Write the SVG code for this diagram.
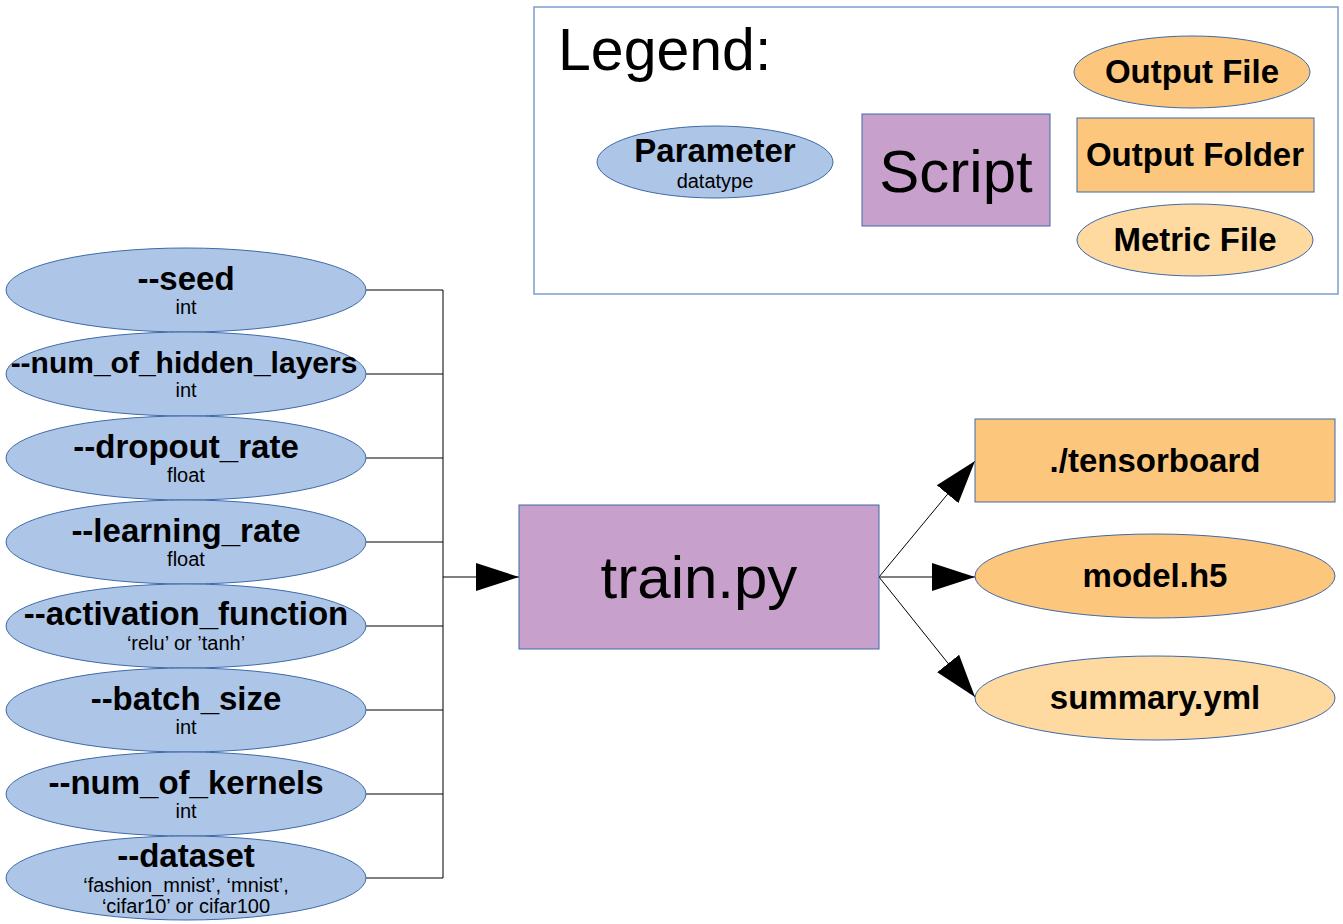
<svg xmlns="http://www.w3.org/2000/svg" width="1343" height="924" viewBox="0 0 1343 924">
<style>
text{font-family:"Liberation Sans",Arial,sans-serif;fill:#000;text-anchor:middle}
.t{font-weight:bold;font-size:33px}
.s{font-size:20px}
.ob{font-weight:bold;font-size:33px}
.param{fill:#adc6e8;stroke:#3f6aa8;stroke-width:1}
.script{fill:#c7a0cb;stroke:#3f6aa8;stroke-width:1}
.out{fill:#fcc67c;stroke:#3f6aa8;stroke-width:1}
.metric{fill:#fed9a0;stroke:#3f6aa8;stroke-width:1}
.c{fill:none;stroke:#000;stroke-width:1}
</style>
<defs>
<marker id="ah" markerUnits="userSpaceOnUse" markerWidth="44" markerHeight="30" refX="43" refY="14" orient="auto" viewBox="0 0 44 28">
<path d="M0,0 L43,14 L0,28 z" fill="#000"/>
</marker>
</defs>
<rect width="1343" height="924" fill="#fff"/>
<g id="legend">
<rect x="534" y="7" width="804" height="287" fill="#fff" stroke="#7c9ccd" stroke-width="1.5"/>
<text x="558" y="70" style="font-size:59px;text-anchor:start">Legend:</text>
<g id="legend-parameter">
<ellipse class="param" cx="715" cy="162" rx="118" ry="36"/>
<text x="715" y="162" style="font-weight:bold;font-size:33px">Parameter</text>
<text x="715" y="188" class="s">datatype</text>
</g>
<g id="legend-script">
<rect class="script" x="862" y="114" width="188" height="112"/>
<text x="956" y="192" style="font-size:60px">Script</text>
</g>
<g id="legend-output-file">
<ellipse class="out" cx="1192" cy="72" rx="118" ry="36"/>
<text x="1192" y="83" class="ob">Output File</text>
</g>
<g id="legend-output-folder">
<rect class="out" x="1077" y="118" width="237" height="74"/>
<text x="1195" y="166" class="ob">Output Folder</text>
</g>
<g id="legend-metric-file">
<ellipse class="metric" cx="1195" cy="240" rx="118" ry="36"/>
<text x="1195" y="251" class="ob">Metric File</text>
</g>
</g>
<g id="connectors">
<path class="c" d="M366,290 H443 M366,374 H443 M366,458 H443 M366,542 H443 M366,626 H443 M366,710 H443 M366,794 H443 M366,878 H443 M443,290 V878"/>
<line class="c" x1="443" y1="577" x2="519" y2="577" marker-end="url(#ah)"/>
<line class="c" x1="879" y1="577" x2="975" y2="461" marker-end="url(#ah)"/>
<line class="c" x1="879" y1="577" x2="975" y2="577" marker-end="url(#ah)"/>
<line class="c" x1="879" y1="577" x2="975" y2="697" marker-end="url(#ah)"/>
</g>
<g id="seed">
<ellipse class="param" cx="186" cy="290" rx="180" ry="42"/>
<text x="186" y="290" class="t">--seed</text>
<text x="186" y="314" class="s">int</text>
</g>
<g id="num_of_hidden_layers">
<ellipse class="param" cx="186" cy="374" rx="180" ry="42"/>
<text x="184" y="373" class="t" style="font-size:30px">--num_of_hidden_layers</text>
<text x="186" y="397" class="s">int</text>
</g>
<g id="dropout_rate">
<ellipse class="param" cx="186" cy="458" rx="180" ry="42"/>
<text x="186" y="458" class="t">--dropout_rate</text>
<text x="186" y="482" class="s">float</text>
</g>
<g id="learning_rate">
<ellipse class="param" cx="186" cy="542" rx="180" ry="42"/>
<text x="186" y="542" class="t">--learning_rate</text>
<text x="186" y="566" class="s">float</text>
</g>
<g id="activation_function">
<ellipse class="param" cx="186" cy="626" rx="180" ry="42"/>
<text x="186" y="625" class="t">--activation_function</text>
<text x="186" y="650" class="s">‘relu’ or ’tanh’</text>
</g>
<g id="batch_size">
<ellipse class="param" cx="186" cy="710" rx="180" ry="42"/>
<text x="186" y="710" class="t">--batch_size</text>
<text x="186" y="734" class="s">int</text>
</g>
<g id="num_of_kernels">
<ellipse class="param" cx="186" cy="794" rx="180" ry="42"/>
<text x="186" y="794" class="t">--num_of_kernels</text>
<text x="186" y="818" class="s">int</text>
</g>
<g id="dataset">
<ellipse class="param" cx="186" cy="878" rx="180" ry="42"/>
<text x="186" y="867" class="t">--dataset</text>
<text x="186" y="892" class="s">‘fashion_mnist’, ‘mnist’,</text>
<text x="186" y="913" class="s">‘cifar10’ or cifar100</text>
</g>
<g id="train">
<rect class="script" x="519" y="505" width="360" height="144"/>
<text x="699" y="598" style="font-size:60px">train.py</text>
</g>
<g id="tensorboard">
<rect class="out" x="975" y="419" width="360" height="83"/>
<text x="1155" y="472" class="ob">./tensorboard</text>
</g>
<g id="model">
<ellipse class="out" cx="1155" cy="576" rx="180" ry="42"/>
<text x="1155" y="587" class="ob">model.h5</text>
</g>
<g id="summary">
<ellipse class="metric" cx="1155" cy="698" rx="180" ry="42"/>
<text x="1155" y="709" class="ob">summary.yml</text>
</g>
</svg>
